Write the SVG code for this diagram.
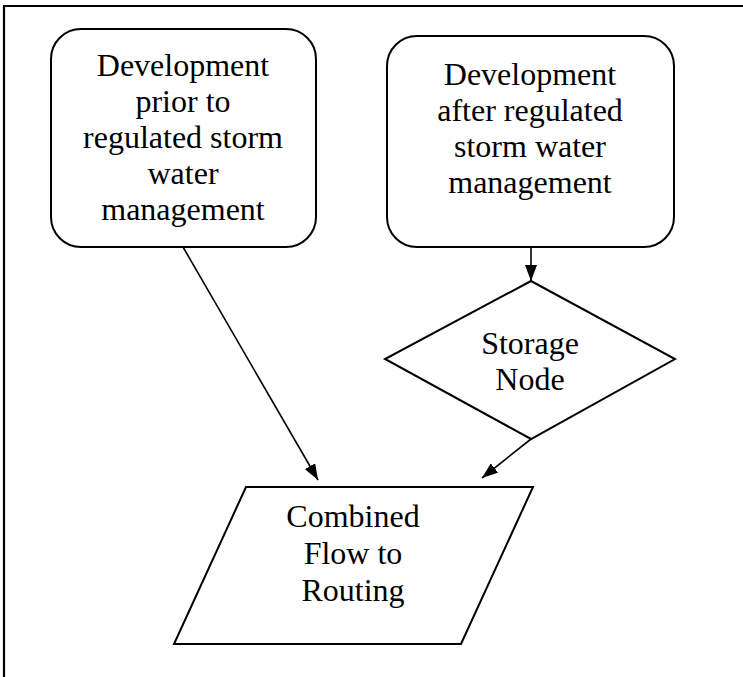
<svg xmlns="http://www.w3.org/2000/svg" width="743" height="677" viewBox="0 0 743 677">
<style>
.shape{fill:#fff;stroke:#000;stroke-width:2}
.lbl{font-family:"Liberation Serif","Times New Roman",serif;font-size:32px;fill:#000;text-anchor:middle}
.conn{stroke:#000;stroke-width:1.6;fill:none}
</style>
<defs>
<marker id="arr" viewBox="0 0 10 10" refX="10" refY="5" markerWidth="10" markerHeight="10" markerUnits="userSpaceOnUse" orient="auto">
<path d="M0,0 L10,5 L0,10 z" fill="#000"/>
</marker>
<marker id="arrL" viewBox="0 0 16 12" refX="16" refY="6" markerWidth="16" markerHeight="12" markerUnits="userSpaceOnUse" orient="auto">
<path d="M0,0 L16,6 L0,12 z" fill="#000"/>
</marker>
</defs>
<rect width="743" height="677" fill="#fff"/>
<g id="frame">
<path d="M4,677 V6 H743" fill="none" stroke="#000" stroke-width="2.2"/>
</g>
<g id="connectors">
<line class="conn" x1="183" y1="247" x2="318" y2="480" marker-end="url(#arrL)"/>
<line class="conn" x1="531" y1="247" x2="531" y2="281" marker-end="url(#arrL)"/>
<line class="conn" x1="531" y1="439" x2="482" y2="478" marker-end="url(#arrL)"/>
</g>
<g id="node-prior">
<rect class="shape" x="51" y="29" width="265" height="218" rx="30" ry="30"/>
<text class="lbl" x="183" y="76">Development</text>
<text class="lbl" x="183" y="112">prior to</text>
<text class="lbl" x="183" y="148">regulated storm</text>
<text class="lbl" x="183" y="184">water</text>
<text class="lbl" x="183" y="220">management</text>
</g>
<g id="node-after">
<rect class="shape" x="387" y="36" width="287" height="211" rx="30" ry="30"/>
<text class="lbl" x="530" y="85">Development</text>
<text class="lbl" x="530" y="121">after regulated</text>
<text class="lbl" x="530" y="157">storm water</text>
<text class="lbl" x="530" y="193">management</text>
</g>
<g id="node-storage">
<polygon class="shape" points="531,281 675,359 531,439 385,359"/>
<text class="lbl" x="530" y="354">Storage</text>
<text class="lbl" x="530" y="390">Node</text>
</g>
<g id="node-combined">
<polygon class="shape" points="246,487 533,487 461,644 174,644"/>
<text class="lbl" x="353" y="527">Combined</text>
<text class="lbl" x="353" y="564">Flow to</text>
<text class="lbl" x="353" y="601">Routing</text>
</g>
</svg>
